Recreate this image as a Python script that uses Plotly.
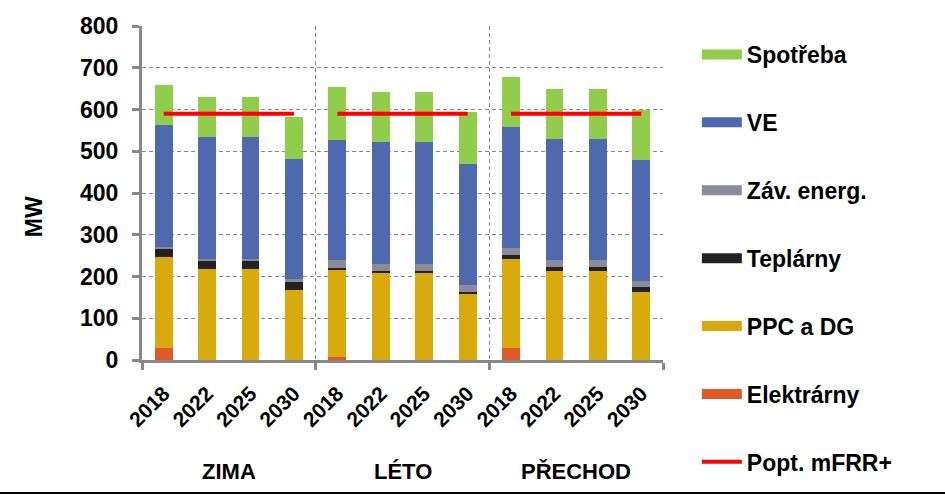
import plotly.graph_objects as go

seasons = ["ZIMA", "LÉTO", "PŘECHOD"]
years = ["2018", "2022", "2025", "2030"]

# values per bar, order: ZIMA 2018..2030, LÉTO 2018..2030, PŘECHOD 2018..2030
elektrarny = [29, 0, 0, 0, 8, 0, 0, 0, 29, 0, 0, 0]
ppc_dg = [218, 218, 218, 168, 208, 210, 210, 158, 213, 214, 214, 163]
teplarny = [19, 20, 20, 20, 5, 4, 4, 6, 10, 9, 9, 11]
zav_energ = [5, 4, 4, 5, 19, 16, 16, 16, 17, 17, 17, 16]
ve = [291, 291, 291, 289, 288, 291, 291, 290, 290, 290, 290, 290]
spotreba = [96, 96, 96, 99, 125, 122, 122, 124, 120, 120, 120, 120]
popt_mfrr = [590, 590, 590]

series = [
    ("Elektrárny", elektrarny, "#E05A28"),
    ("PPC a DG", ppc_dg, "#D9AA0B"),
    ("Teplárny", teplarny, "#222222"),
    ("Záv. energ.", zav_energ, "#8B8C9A"),
    ("VE", ve, "#4E69AE"),
    ("Spotřeba", spotreba, "#8FCD4B"),
]

n_years = len(years)
x_pos = list(range(len(seasons) * n_years))
tick_text = [y for s in seasons for y in years]

FONT = "Liberation Sans, Arial, sans-serif"

fig = go.Figure()
for name, vals, col in series:
    fig.add_trace(go.Bar(x=x_pos, y=vals, name=name, marker=dict(color=col, line=dict(width=0)),
                         width=0.41, showlegend=False))

# demand line per season
lx, ly = [], []
for si, v in enumerate(popt_mfrr):
    lx += [si * n_years, si * n_years + n_years - 1, None]
    ly += [v, v, None]
fig.add_trace(go.Scatter(x=lx, y=ly, mode="lines", line=dict(color="#FF0000", width=4),
                         showlegend=False))

# legend entries
legend_items = [(n, c) for n, _, c in reversed(series)] + [("Popt. mFRR+", "#FF0000")]
for i, (name, col) in enumerate(legend_items):
    w = 4 if name.startswith("Popt") else 10
    fig.add_trace(go.Scatter(x=[None], y=[None], mode="lines", name=name,
                             line=dict(color=col, width=w), legendgroup=str(i),
                             legendrank=i + 1))

bounds = [si * n_years - 0.5 for si in range(len(seasons) + 1)]

fig.update_layout(
    width=945, height=495,
    margin=dict(l=142, r=282, t=26, b=135),
    barmode="stack",
    plot_bgcolor="white", paper_bgcolor="white",
    font=dict(family=FONT, size=21, color="black", weight="bold"),
    legend=dict(x=1.065, y=0.979, xanchor="left", yanchor="top", tracegroupgap=35,
                font=dict(family=FONT, size=23, color="black", weight="bold"),
                itemwidth=40, bgcolor="rgba(0,0,0,0)", maxheight=480),
    showlegend=True,
)
fig.update_xaxes(
    range=[-0.5, len(x_pos) - 0.5],
    tickmode="array", tickvals=x_pos, ticktext=tick_text, tickangle=-45,
    ticks="", showgrid=False, zeroline=False, ticklabelstandoff=10,
    showline=True, linecolor="#888888", linewidth=3,
    tickfont=dict(family=FONT, size=21, color="black", weight="bold"),
    minor=dict(tickmode="array", tickvals=bounds, ticks="outside", ticklen=7,
               tickwidth=3, tickcolor="#888888", showgrid=True, gridcolor="#888888",
               griddash="4px,3px", gridwidth=1),
)
fig.update_yaxes(
    range=[0, 800], dtick=100, tick0=0,
    showline=True, linecolor="#888888", linewidth=3,
    ticks="outside", ticklen=7, tickwidth=3, tickcolor="#888888",
    showgrid=True, gridcolor="#888888", griddash="4px,3px", gridwidth=1,
    zeroline=False, ticklabelstandoff=9,
    tickfont=dict(family=FONT, size=23, color="black", weight="bold"),
)

fig.add_annotation(x=-0.207, y=0.428, xref="paper", yref="paper", text="MW", textangle=-90,
                   showarrow=False, xanchor="center", yanchor="middle",
                   font=dict(family=FONT, size=23, color="black", weight="bold"))

for si, s in enumerate(seasons):
    fig.add_annotation(x=si * n_years + (n_years - 1) / 2, y=-0.334, xref="x", yref="paper",
                       text=s, showarrow=False, yanchor="middle",
                       font=dict(family=FONT, size=22, color="black", weight="bold"))

fig.add_shape(type="line", xref="paper", yref="paper", x0=-0.28, x1=1.55, y0=-0.398, y1=-0.398,
              line=dict(color="black", width=2))

fig.write_html("out.html", post_script="document.body.style.margin='0';",
               config={"displayModeBar": False})
